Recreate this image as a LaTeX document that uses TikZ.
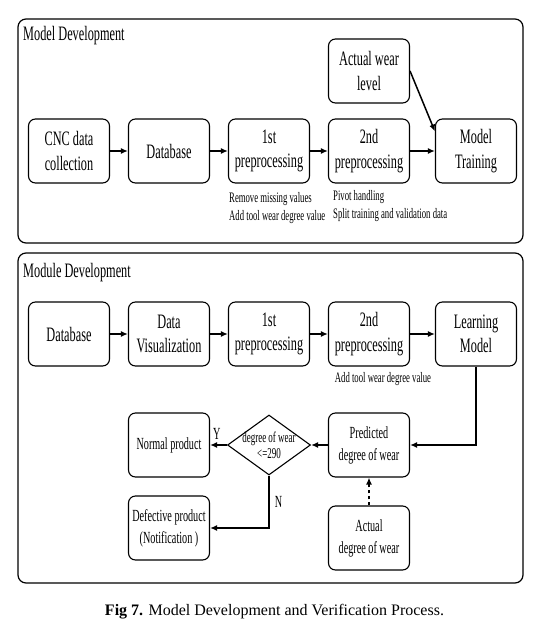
\documentclass[tikz,border=0pt]{standalone}
\usepackage{fontspec}
\setmainfont{Liberation Serif}
\newfontfamily\narrow[FakeStretch=0.6]{Liberation Serif}
\usetikzlibrary{shapes.geometric, arrows.meta}

\begin{document}
\begin{tikzpicture}[x=1pt, y=-1pt, >={Latex[length=7pt, width=6pt]},
        main/.style = {draw, rounded corners=7pt, line width=1.1pt, minimum width=81pt, minimum height=64pt, align=center, font=\narrow\fontsize{20.5}{24.5}\selectfont},
        lower/.style = {main, font=\narrow\fontsize{17}{22}\selectfont},
        cond/.style = {draw, diamond, line width=1.1pt, minimum width=83pt, minimum height=60pt, inner sep=0pt},
        note/.style = {align=left, inner sep=0pt, font=\narrow\fontsize{14.5}{18}\selectfont},
        yn/.style = {inner sep=0pt, font=\narrow\fontsize{17}{18}\selectfont},
        panel/.style = {draw, rounded corners=8pt, line width=1.2pt},
        head/.style = {anchor=west, inner sep=0pt, font=\narrow\fontsize{20.5}{24}\selectfont},
        flow/.style = {->, line width=1.5pt},
        node distance={100pt}]
        \useasboundingbox (0,0) rectangle (543,635);
        % model development
        \draw[panel] (18,19) rectangle (523,243);
        \node[head] (t1) at (23,36) {Model Development};
        \node[main] (1) at (69,151) {CNC data\\collection};
        \node[main] (2) [right of=1] {Database};
        \node[main] (3) [right of=2] {1st\\preprocessing};
        \node[main] (4) [right of=3] {2nd\\preprocessing};
        \node[main] (5) [right of=4, xshift=7pt] {Model\\Training};
        \node[main] (6) [above of=4, node distance=80pt] {Actual wear\\level};
        \node[note, anchor=north west] (n1) at (229,192) {Remove missing values\\Add tool wear degree value};
        \node[note, anchor=north west] (n2) at (333,190) {Pivot handling\\Split training and validation data};
        \draw[flow] (1) -- (2);
        \draw[flow] (2) -- (3);
        \draw[flow] (3) -- (4);
        \draw[flow] (4) -- (5);
        \draw[flow] (6.east) -- ([yshift=-13pt]5.north west);
        % module development
        \draw[panel] (18,253) rectangle (523,583);
        \node[head] (t2) at (23,273) {Module Development};
        \node[main] (7) at (69,334) {Database};
        \node[main] (8) [right of=7] {Data\\Visualization};
        \node[main] (9) [right of=8] {1st\\preprocessing};
        \node[main] (10) [right of=9] {2nd\\preprocessing};
        \node[main] (11) [right of=10, xshift=7pt] {Learning\\Model};
        \node[note] (n3) [below of=10, node distance=45pt, xshift=14pt] {Add tool wear degree value};
        \node[lower] (12) [below of=10, node distance=111pt] {Predicted\\degree of wear};
        \node[lower] (13) [below of=12, node distance=93pt] {Actual\\degree of wear};
        \node[cond, label={[align=center, font=\narrow\fontsize{15}{16}\selectfont]center:degree of wear\\<=290}] (14) [left of=12] {};
        \node[lower] (15) [left of=14] {Normal product};
        \node[lower] (16) [below of=15, node distance=83pt] {Defective product\\(Notification )};
        \draw[flow] (7) -- (8);
        \draw[flow] (8) -- (9);
        \draw[flow] (9) -- (10);
        \draw[flow] (10) -- (11);
        \draw[flow] (11) |- (12);
        \draw[flow] (12) -- (14);
        \draw[flow] (14) -- node[pos=0.6, above=5pt, yn] {Y} (15);
        \draw[flow] (14) |- node[pos=0.25, right=5pt, yn] {N} (16);
        \draw[flow, dashed] (13) -- (12);
        \node[font=\fontsize{16}{19}\selectfont] (cap) at (274.5,612) {\textbf{Fig 7.} Model Development and Verification Process.};
\end{tikzpicture}
\end{document}
